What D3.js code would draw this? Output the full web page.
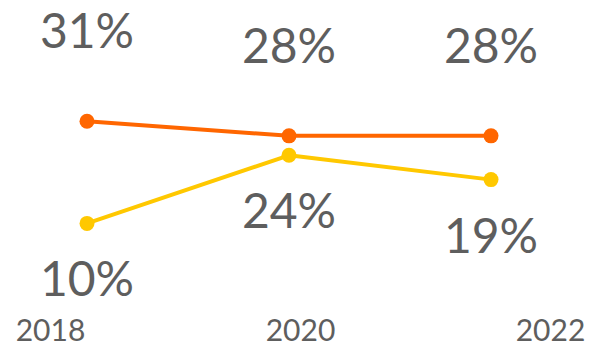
<!DOCTYPE html>
<html>
<head>
<meta charset="utf-8">
<script src="https://cdn.jsdelivr.net/npm/d3@7"></script>
<style>
  html, body { margin: 0; padding: 0; background: #fff; }
  svg { display: block; font-family: Lato, "Open Sans", sans-serif; }
</style>
</head>
<body>
<svg id="chart" width="589" height="348"></svg>
<script>
// Category labels and series values (percent)
const years = ["2018", "2020", "2022"];
const seriesNames = ["A", "B"];
const seriesA = [31, 28, 28];
const seriesB = [10, 24, 19];
const seriesColors = ["#ff6600", "#ffc800"];
const labelSide = ["above", "below"];

const svg = d3.select("#chart");
const textColor = "#5e5e5e";

// Point positions for the data marks
const x = d3.scalePoint().domain(years).range([87, 491]);
// Positions for the year labels along the bottom
const xAxisScale = d3.scalePoint().domain(years).range([50, 550]);
const y = d3.scaleLinear().domain([0, 40]).range([272, 77.5]);

const series = [seriesA, seriesB].map((vals, i) => ({
  name: seriesNames[i],
  color: seriesColors[i],
  side: labelSide[i],
  points: years.map((yr, j) => ({ year: yr, value: vals[j] }))
}));

const line = d3.line().x(d => x(d.year)).y(d => y(d.value));

// Draw lower series first so the upper one sits on top
series.slice().reverse().forEach(s => {
  svg.append("path")
    .datum(s.points)
    .attr("fill", "none")
    .attr("stroke", s.color)
    .attr("stroke-width", 4)
    .attr("stroke-linejoin", "round")
    .attr("d", line);
  svg.selectAll(null)
    .data(s.points)
    .join("circle")
    .attr("cx", d => x(d.year))
    .attr("cy", d => y(d.value))
    .attr("r", 7.5)
    .attr("fill", s.color);
});

// Value labels
series.forEach(s => {
  svg.selectAll(null)
    .data(s.points)
    .join("text")
    .attr("x", d => x(d.year))
    .attr("y", d => s.side === "above" ? y(d.value) - 73 : y(d.value) + 73)
    .attr("text-anchor", "middle")
    .attr("font-size", 48)
    .attr("fill", textColor)
    .text(d => d.value + "%");
});

// Year axis labels
const axis = d3.axisBottom(xAxisScale).tickSize(0).tickPadding(0);
const gAxis = svg.append("g").attr("transform", "translate(0,320)").call(axis);
gAxis.select(".domain").remove();
gAxis.selectAll("text")
  .attr("font-family", "Lato, 'Open Sans', sans-serif")
  .attr("font-size", 30)
  .attr("fill", textColor);
</script>
</body>
</html>
